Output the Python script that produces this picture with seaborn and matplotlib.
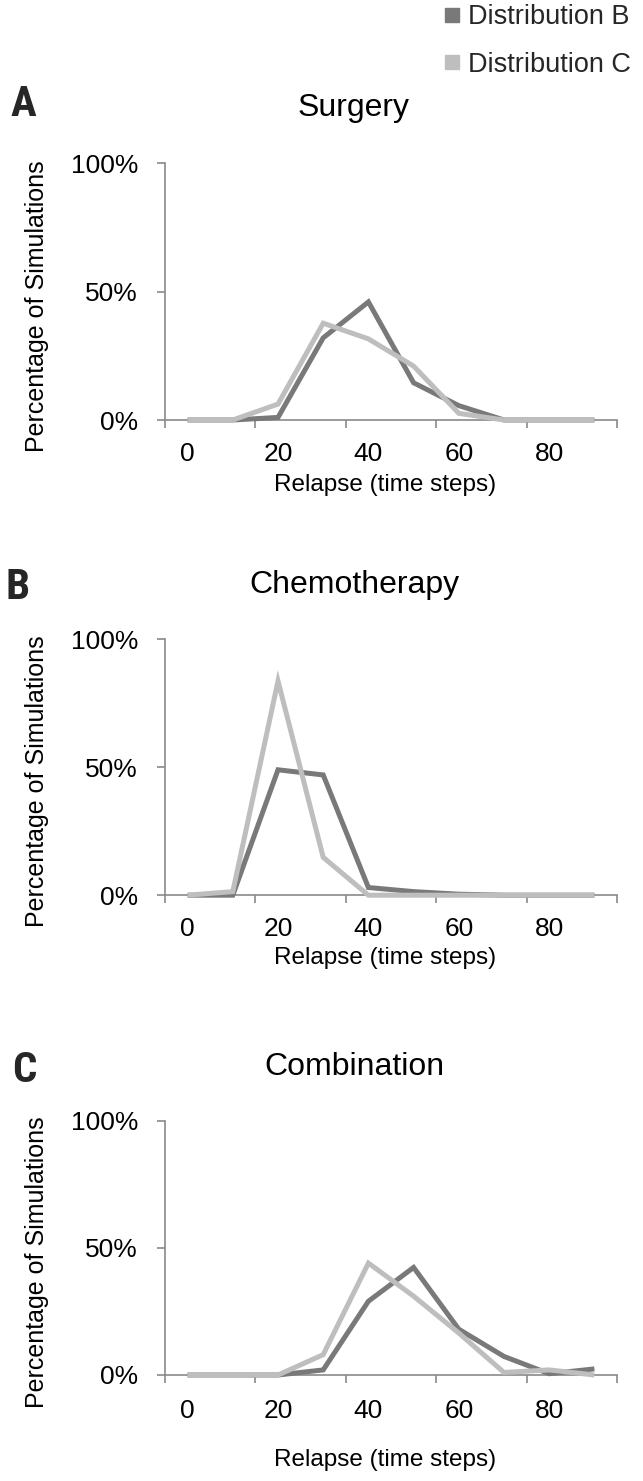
import numpy as np
import pandas as pd
import matplotlib
matplotlib.use("Agg")
import matplotlib.pyplot as plt
import seaborn as sns
from matplotlib.lines import Line2D
from matplotlib import font_manager

# ---------------- data ----------------
relapse_steps = [0, 10, 20, 30, 40, 50, 60, 70, 80, 90]
panel_titles = ["Surgery", "Chemotherapy", "Combination"]
panel_letters = ["A", "B", "C"]
series_names = ["Distribution B", "Distribution C"]

surgery_b = [0, 0, 1, 32, 46, 14.5, 5.6, 0, 0, 0]
surgery_c = [0, 0, 6.2, 37.7, 31.6, 21, 2.6, 0, 0, 0]
chemo_b = [0, 0, 49, 47, 3, 1.4, 0.4, 0, 0, 0]
chemo_c = [0, 1.4, 83.7, 14.8, 0, 0, 0, 0, 0, 0]
combo_b = [0, 0, 0, 2, 29, 42.3, 18, 7.3, 0.5, 2.4]
combo_c = [0, 0, 0, 8, 44, 31, 16.5, 1, 2, 0]

x_tick_values = [0, 20, 40, 60, 80]
y_tick_values = [0, 50, 100]

panel_series = [(surgery_b, surgery_c), (chemo_b, chemo_c), (combo_b, combo_c)]

# ---------------- style ----------------
sns.set_theme(style="white")
plt.rcParams["font.family"] = ["Liberation Sans", "DejaVu Sans"]

# pick a narrow/condensed bold face for the panel letters if one exists
available = {f.name for f in font_manager.fontManager.ttflist}
letter_family = ["DejaVu Sans"]
for cand in ["Liberation Sans Narrow", "DejaVu Sans Condensed", "Roboto Condensed"]:
    if cand in available:
        letter_family = [cand, "DejaVu Sans"]
        break
condensed_files = [f for f in font_manager.fontManager.ttflist
                   if f.name == "DejaVu Sans" and "Condensed" in f.fname and "Bold" in f.fname
                   and "Oblique" not in f.fname]
letter_font = None
if letter_family == ["DejaVu Sans"] and condensed_files:
    letter_font = font_manager.FontProperties(fname=condensed_files[0].fname)

dark = "#797979"
light = "#bebebe"
axis_color = "#8a8a8a"
palette = {series_names[0]: dark, series_names[1]: light}

W, H = 643, 1481
fig = plt.figure(figsize=(W / 100, H / 100), dpi=100)


def fx(px):
    return px / W


def fy(py):
    return 1 - py / H


axes_px = [(420.0, 163.3), (895.2, 639.3), (1375.0, 1120.7)]
x_left, x_right = 165.0, 617.0
title_y = [108, 585, 1067]
letter_pos = [(23, 105), (18, 587), (24, 1071)]
xtick_pad = [15.5, 15.5, 17.5]
xlabel_off = [65, 63, 85]

for i in range(3):
    y0, y100 = axes_px[i]
    ax = fig.add_axes([fx(x_left), fy(y0), (x_right - x_left) / W, (y0 - y100) / H])
    b_vals, c_vals = panel_series[i]
    df = pd.DataFrame({
        "Relapse": relapse_steps * 2,
        "Percent": list(b_vals) + list(c_vals),
        "Distribution": [series_names[0]] * len(relapse_steps) + [series_names[1]] * len(relapse_steps),
    })
    sns.lineplot(data=df, x="Relapse", y="Percent", hue="Distribution", palette=palette,
                 linewidth=3.6, legend=False, ax=ax, zorder=3)
    for ln in ax.get_lines():
        ln.set_clip_on(False)
        ln.set_solid_joinstyle("miter")
        ln.set_solid_capstyle("butt")

    ax.set_xlim(-5, 95)
    ax.set_ylim(0, 100)
    sns.despine(ax=ax)
    for side in ["left", "bottom"]:
        ax.spines[side].set_color(axis_color)
        ax.spines[side].set_linewidth(1.2)

    ax.set_xticks(x_tick_values)
    ax.set_xticklabels([str(v) for v in x_tick_values])
    ax.set_xticks(np.arange(-5, 96, 20), minor=True)
    ax.tick_params(axis="x", which="major", bottom=True, length=0, pad=xtick_pad[i],
                   labelsize=19, labelcolor="black")
    ax.tick_params(axis="x", which="minor", bottom=True, length=5.8, width=1.2,
                   color=axis_color, direction="out")
    ax.set_yticks(y_tick_values)
    ax.set_yticklabels([f"{v}%" for v in y_tick_values])
    ax.tick_params(axis="y", which="major", left=True, length=5.8, width=1.2,
                   color=axis_color, direction="out", pad=13.7, labelsize=19,
                   labelcolor="black")
    ax.tick_params(axis="y", which="minor", left=False)

    ax.set_xlabel("Relapse (time steps)", fontsize=17.5, color="black")
    ax.xaxis.set_label_coords((385 - x_left) / (x_right - x_left), -xlabel_off[i] / (y0 - y100))
    ax.xaxis.label.set_va("center")
    ax.set_ylabel("Percentage of Simulations", fontsize=18, color="black")
    ax.yaxis.set_label_coords((37 - x_left) / (x_right - x_left), 0.445)
    ax.yaxis.label.set_va("center")

    ax.set_title(panel_titles[i], fontsize=23, color="black", pad=0,
                 x=(354 - x_left) / (x_right - x_left),
                 y=1 + (y100 - title_y[i]) / (y0 - y100), va="center")

    lx, ly = letter_pos[i]
    if letter_font is not None:
        fp = letter_font.copy()
        fp.set_size(31)
        fig.text(fx(lx), fy(ly), panel_letters[i], fontproperties=fp, ha="center", va="center")
    else:
        fig.text(fx(lx), fy(ly), panel_letters[i], fontsize=31, fontweight="bold",
                 fontstretch="condensed", family=letter_family, ha="center", va="center")

handles = [Line2D([0], [0], marker="s", linestyle="", markersize=10,
                  markerfacecolor=c, markeredgecolor=c) for c in (dark, light)]
fig.legend(handles, series_names, loc="upper left", bbox_to_anchor=(fx(444), fy(4)),
           frameon=False, fontsize=19.5, handlelength=0.6, handletextpad=0.3,
           labelspacing=0.8, borderpad=0, borderaxespad=0)

fig.savefig("out.png", dpi=100)
